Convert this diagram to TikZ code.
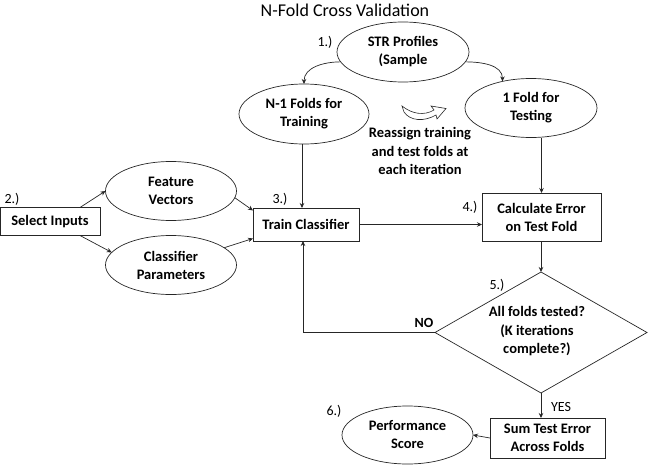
\documentclass[tikz,border=0pt]{standalone}
\usepackage{fontspec}
\setmainfont{Carlito}
\usetikzlibrary{shapes.geometric,arrows.meta}
\begin{document}
\begin{tikzpicture}[x=1pt,y=-1pt,
  every node/.style={inner sep=0pt,outer sep=0pt},
  ell/.style={draw=black!85,line width=0.7pt,ellipse,minimum width=131pt,minimum height=59pt,align=center,font=\fontsize{14.5}{18}\selectfont\bfseries},
  boxn/.style={draw=black!85,line width=0.7pt,rectangle,align=center,font=\fontsize{14.5}{18}\selectfont\bfseries},
  num/.style={font=\fontsize{14}{16}\selectfont},
  txt/.style={align=center,font=\fontsize{14.5}{18.5}\selectfont\bfseries},
  arr/.style={draw=black!85,line width=0.7pt,-{Stealth[length=5pt,width=4.5pt]}},
  ln/.style={draw=black!85,line width=0.7pt}]
\useasboundingbox (0,0) rectangle (651,471);
% title
\node[font=\fontsize{18}{20}\selectfont] (title) at (345,10) {N-Fold Cross Validation};
% nodes
\node[ell,minimum width=132pt,minimum height=60pt] (str) at (403,52) {STR Profiles\\(Sample};
\node[ell,minimum width=130pt,minimum height=60pt] (n1) at (304,114) {N-1 Folds for\\Training};
\node[ell,minimum width=132pt,minimum height=59pt] (f1) at (531,108) {1 Fold for\\Testing};
\node[txt] (reassign) at (420,151) {Reassign training\\and test folds at\\each iteration};
\node[boxn,minimum width=100pt,minimum height=28pt] (sel) at (50,221.5) {Select Inputs};
\node[ell] (fv) at (171,191) {Feature\\Vectors};
\node[ell] (cp) at (171,265) {Classifier\\Parameters};
\node[boxn,minimum width=106pt,minimum height=33pt] (tc) at (306,224.5) {Train Classifier};
\node[boxn,minimum width=119pt,minimum height=48pt] (calc) at (541.5,217) {Calculate Error\\on Test Fold};
\node[diamond,draw=black!85,line width=0.7pt,minimum width=212pt,minimum height=121pt,aspect=1.75] (dia) at (541,332.5) {};
\node[txt,font=\fontsize{14.5}{18.5}\selectfont\bfseries] (diatext) at (537,331.5) {All folds tested?\\(K iterations\\complete?)};
\node[boxn,minimum width=115pt,minimum height=40pt] (sum) at (547.5,438) {Sum Test Error\\Across Folds};
\node[ell,minimum width=131pt,minimum height=58pt] (perf) at (407.5,435) {Performance\\Score};
% step numbers
\node[num] (l1) at (325,42) {1.)};
\node[num] (l2) at (12,199) {2.)};
\node[num] (l3) at (280,199) {3.)};
\node[num] (l4) at (470,207) {4.)};
\node[num] (l5) at (497,285) {5.)};
\node[num] (l6) at (334,411) {6.)};
\node[num,font=\fontsize{14}{16}\selectfont\bfseries] (no) at (424,323) {NO};
\node[num] (yes) at (561,407) {YES};
% curved icon arrow
\draw[black!85,line width=0.6pt,fill=white] (402,106) .. controls (412,114) and (424,116) .. (434,110)
  -- (431,106) -- (446,108.5) -- (437,119) -- (436,115)
  .. controls (424,122) and (410,121) .. (404,112) -- cycle;
% connectors
\draw[arr] (str.189) to[out=180,in=90] (n1.north);
\draw[arr] (str.351) to[out=0,in=90] (f1.137);
\draw[arr] ([xshift=30pt]sel.north) -- (fv.west);
\draw[arr] ([xshift=30pt]sel.south) -- (cp.168);
\draw[arr] (fv.-6) -- ([yshift=14pt]tc.west);
\draw[arr] (cp.18) -- ([yshift=-14pt]tc.west);
\draw[arr] ([xshift=-2pt]n1.south) -- ([xshift=-2pt]n1.south |- tc.north);
\draw[arr] (tc.east) -- (tc.east -| calc.west);
\draw[arr] (calc.north |- f1.south) -- (calc.north);
\draw[arr] (calc.south -| dia.north) -- (dia.north);
\draw[arr] (dia.west) -- ([xshift=-3pt]dia.west -| tc.south) -- ([xshift=-3pt]tc.south);
\draw[arr] (dia.south) -- (dia.south |- sum.north);
\draw[arr] (sum.west) -- (perf.east);
\end{tikzpicture}
\end{document}
